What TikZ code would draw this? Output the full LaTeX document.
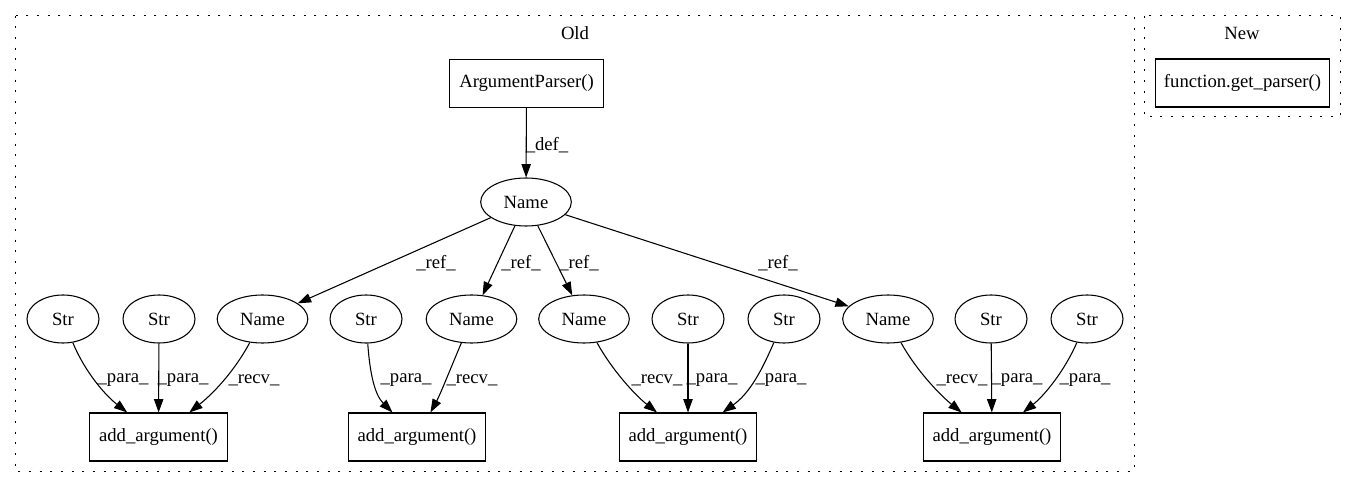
\documentclass[tikz,border=0pt]{standalone}
\usepackage{fontspec}
\setmainfont{Liberation Serif}
\usetikzlibrary{arrows.meta,shapes.geometric}
\begin{document}
\begin{tikzpicture}[x=0.75pt,y=-0.75pt,
  every node/.style={font=\fontsize{14pt}{16pt}\selectfont},
  ell/.style={draw, ellipse, minimum height=36pt, inner sep=0pt, line width=0.8pt},
  strn/.style={ell, minimum width=54pt},
  namen/.style={ell, minimum width=68pt},
  box/.style={draw, rectangle, minimum height=36pt, inner sep=0pt, line width=0.8pt},
  lbl/.style={inner sep=0pt},
  edge/.style={line width=0.8pt, -{Triangle[length=10pt,width=7pt]}},
  cluster/.style={draw, line width=0.75pt, dash pattern=on 1.5pt off 6.5pt}]
\useasboundingbox (0,0) rectangle (1356,488);

% clusters
\draw[cluster] (15.7,15.7) rectangle (1134,471.7);
\draw[cluster] (1144,16) rectangle (1340,117);
\node[lbl] (oldlbl) at (575,33) {Old};
\node[lbl] (newlbl) at (1242,33) {New};

% top
\node[box, minimum width=115pt] (ap) at (526.5,83.5) {ArgumentParser()};
\node[namen] (top) at (526,202) {Name};
\node[box, minimum width=130pt] (gp) at (1242.5,83) {function.get\_parser()};

% row of Str / Name
\node[strn] (s1a) at (63,319) {Str};
\node[strn] (s1b) at (159,319) {Str};
\node[namen] (n1) at (262.5,319) {Name};
\node[strn] (s2) at (366,319) {Str};
\node[namen] (n2) at (471.5,319) {Name};
\node[namen] (n3) at (584,319) {Name};
\node[strn] (s3a) at (688,319) {Str};
\node[strn] (s3b) at (784,319) {Str};
\node[namen] (n4) at (888,319) {Name};
\node[strn] (s4a) at (991,319) {Str};
\node[strn] (s4b) at (1087,319) {Str};

% boxes
\node[box, minimum width=103pt] (b1) at (158.5,437) {add\_argument()};
\node[box, minimum width=103pt] (b2) at (417,437) {add\_argument()};
\node[box, minimum width=103pt] (b3) at (688,437) {add\_argument()};
\node[box, minimum width=103pt] (b4) at (992,437) {add\_argument()};

% def
\draw[edge] (ap) -- (top);
\node[lbl] (ldef) at (547,145) {\_def\_};

% refs
\draw[edge] (top) -- (n1);
\draw[edge] (top) -- (n2);
\draw[edge] (top) -- (n3);
\draw[edge] (top) -- (n4);
\node[lbl] (lr1) at (436,263) {\_ref\_};
\node[lbl] (lr2) at (521,263) {\_ref\_};
\node[lbl] (lr3) at (579,263) {\_ref\_};
\node[lbl] (lr4) at (778,263) {\_ref\_};

% group 1
\draw[edge] (s1a) .. controls (85,372) and (105,395) .. (b1);
\draw[edge] (s1b) -- (b1);
\draw[edge] (n1) .. controls (235,370) and (215,392) .. (b1);
\node[lbl] (lp1a) at (123,380) {\_para\_};
\node[lbl] (lp1b) at (183,380) {\_para\_};
\node[lbl] (lrc1) at (254,380) {\_recv\_};

% group 2
\draw[edge] (s2) .. controls (370,375) and (375,395) .. (b2);
\draw[edge] (n2) .. controls (452,365) and (440,395) .. (b2);
\node[lbl] (lp2) at (406,380) {\_para\_};
\node[lbl] (lrc2) at (472,380) {\_recv\_};

% group 3
\draw[edge] (n3) .. controls (612,370) and (635,395) .. (b3);
\draw[edge] (s3a) -- (b3);
\draw[edge] (s3b) .. controls (762,370) and (750,393) .. (b3);
\node[lbl] (lrc3) at (657,380) {\_recv\_};
\node[lbl] (lp3a) at (712,380) {\_para\_};
\node[lbl] (lp3b) at (781,380) {\_para\_};

% group 4
\draw[edge] (n4) .. controls (916,370) and (940,395) .. (b4);
\draw[edge] (s4a) -- (b4);
\draw[edge] (s4b) .. controls (1065,370) and (1045,395) .. (b4);
\node[lbl] (lrc4) at (962,380) {\_recv\_};
\node[lbl] (lp4a) at (1017,380) {\_para\_};
\node[lbl] (lp4b) at (1085,380) {\_para\_};
\end{tikzpicture}
\end{document}
